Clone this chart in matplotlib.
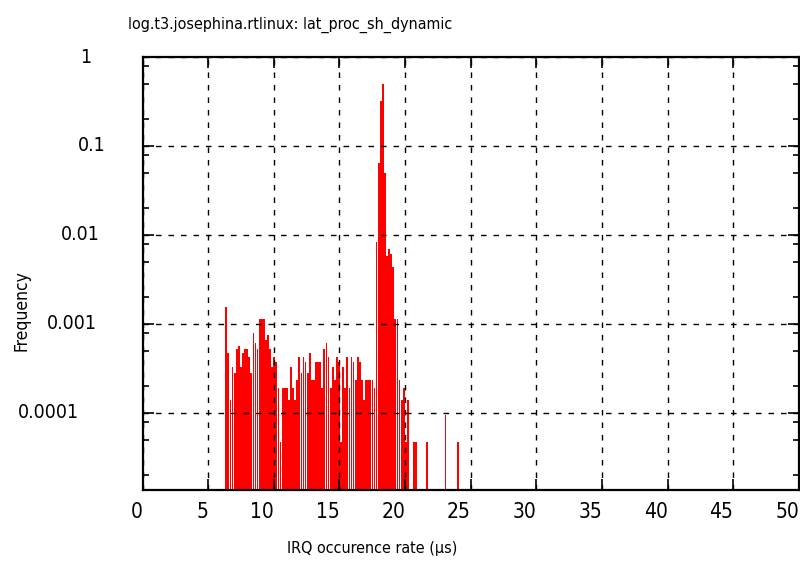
import numpy as np
import matplotlib
matplotlib.use("Agg")
import matplotlib.pyplot as plt
from matplotlib.ticker import LogLocator, NullFormatter, MultipleLocator

plt.rcParams['font.family'] = ['Liberation Sans Narrow', 'DejaVu Sans']
plt.rcParams['font.stretch'] = 'condensed'

title = "log.t3.josephina.rtlinux: lat_proc_sh_dynamic"
xlabel = "IRQ occurence rate (\u00b5s)"
ylabel = "Frequency"

# histogram: first bin edge, bin width (us), and counts per bin
bin_start = 6.30
bin_width = 0.159
counts = np.array([
    33, 10, 3, 7, 6, 11, 12, 7, 10, 11, 11, 9, 6, 17, 13, 11, 24, 24, 24, 14, 16, 11,
    7, 9, 8, 4, 1, 4, 4, 4, 3, 7, 4, 3, 5, 9, 6, 9, 8, 6, 10, 5, 5, 8,
    8, 8, 4, 11, 13, 9, 4, 7, 5, 9, 8, 1, 7, 4, 9, 4, 9, 8, 5, 9, 8, 5, 3,
    5, 5, 5, 5, 4, 176, 1361, 6890, 10610, 1061, 122, 148, 130, 92, 24, 24, 5, 3, 4, 1, 3,
    0, 0, 1, 1, 0, 0, 0, 0, 1, 0, 0, 0, 0, 0, 0, 0, 0, 2, 0, 0, 0, 0, 0, 1,
])

ytick_vals = [1, 0.1, 0.01, 0.001, 0.0001]
ytick_text = ["1", "0.1", "0.01", "0.001", "0.0001"]
ylab_centre_px = [86, 92, 80, 72, 48]   # gnuplot put these oddly

freq = counts / counts.sum()
centres = bin_start + bin_width * (np.arange(len(counts)) + 0.5)
keep = counts > 0

fig = plt.figure(figsize=(8, 5.63), dpi=100)
ax = fig.add_axes([142.5 / 800, 1 - 490 / 563, (799 - 142.5) / 800, (490 - 57) / 563])

ax.bar(centres[keep], freq[keep], width=bin_width * 0.85, bottom=1e-7,
       color='#ff0000', linewidth=0, antialiased=False, zorder=2)

ax.set_yscale('log')
ax.set_xlim(0, 50)
ax.set_ylim(1.36e-5, 1)

ax.xaxis.set_major_locator(MultipleLocator(5))
ax.yaxis.set_major_locator(LogLocator(base=10, numticks=10))
ax.yaxis.set_minor_locator(LogLocator(base=10, subs=[2, 5, 8], numticks=10))
ax.yaxis.set_minor_formatter(NullFormatter())
ax.set_yticklabels([])

ax.tick_params(which='both', direction='in', top=True, right=True, width=1.2, colors='black')
ax.tick_params(which='major', length=8, labelsize=15, pad=9)
ax.tick_params(which='minor', length=4)

for lab in ax.get_xticklabels():
    lab.set_horizontalalignment('right')

for v, t, px in zip(ytick_vals, ytick_text, ylab_centre_px):
    ax.text((px - 142.5) / (799 - 142.5), v, t, transform=ax.get_yaxis_transform(),
            ha='center', va='center', fontsize=14)

ax.grid(True, which='major', color='black', linestyle=(0, (4, 5)), linewidth=1.0, zorder=3)
ax.set_axisbelow(False)

for s in ax.spines.values():
    s.set_linewidth(1.6)
    s.set_zorder(4)

fig.text(128 / 800, 1 - 25 / 563, title, ha='left', va='center', fontsize=11.5)
fig.text(372 / 800, 1 - 548 / 563, xlabel, ha='center', va='center', fontsize=11.5)
fig.text(22 / 800, 1 - 311 / 563, ylabel, ha='center', va='center', fontsize=12.5, rotation=90)

fig.savefig("out.png", dpi=100)
